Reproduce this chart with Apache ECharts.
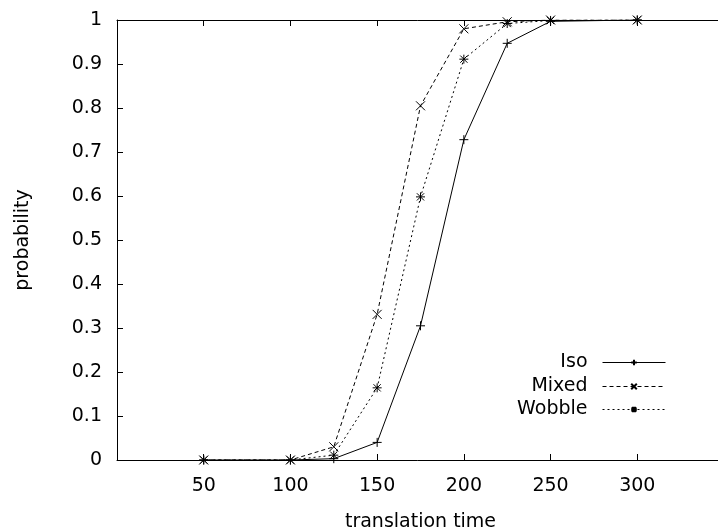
<!DOCTYPE html>
<html>
<head>
<meta charset="UTF-8">
<script src="https://cdn.jsdelivr.net/npm/echarts@6/dist/echarts.min.js"></script>
<style>
  html, body { margin: 0; padding: 0; background: #fff; }
  #chart { width: 718px; height: 529px; }
</style>
</head>
<body>
<div id="chart"></div>
<script>
  // translation time (x) and probability for each model
  const times = [50, 100, 125, 150, 175, 200, 225, 250, 300];
  const iso = [0, 0, 0.003, 0.040, 0.305, 0.728, 0.947, 0.997, 1];
  const mixed = [0, 0, 0.030, 0.331, 0.805, 0.980, 0.996, 1, 1];
  const wobble = [0, 0, 0.011, 0.164, 0.598, 0.911, 0.992, 0.999, 1];

  const font = 'DejaVu Sans, sans-serif';
  const fs = 19;
  const plus = 'path://M0,-5L0,5M-5,0L5,0';
  const cross = 'path://M-4,-4L4,4M-4,4L4,-4';
  const star = 'path://M0,-5L0,5M-5,0L5,0M-4,-4L4,4M-4,4L4,-4';

  function pairs(ys) { return times.map((t, i) => [t, ys[i]]); }

  function line(name, ys, sym, type) {
    return {
      name: name, type: 'line', data: pairs(ys),
      symbol: sym, symbolSize: 9, showSymbol: true,
      lineStyle: { color: '#000', width: 1, type: type },
      itemStyle: { color: '#000', borderColor: '#000', borderWidth: 1 },
      animation: false
    };
  }

  function leg(name, top) {
    return {
      data: [name], right: 52, top: top, align: 'right', padding: 0,
      itemWidth: 63, itemHeight: 7, itemGap: 0,
      lineStyle: { width: 1 },
      textStyle: { fontFamily: font, fontSize: fs, color: '#000', padding: [0, 10, 0, 0] }
    };
  }

  const chart = echarts.init(document.getElementById('chart'));
  chart.setOption({
    animation: false,
    grid: { left: 117, top: 20, width: 607, height: 440, outerBoundsMode: 'none', containLabel: false },
    legend: [leg('Iso', 353), leg('Mixed', 377), leg('Wobble', 400)],
    xAxis: [{
      type: 'value', min: 0, max: 350, interval: 50,
      name: 'translation time', nameLocation: 'middle', nameGap: 53,
      nameTextStyle: { fontFamily: font, fontSize: fs, color: '#000' },
      axisLine: { lineStyle: { color: '#000', width: 1 } },
      axisTick: { inside: true, length: 6, lineStyle: { color: '#000' } },
      axisLabel: { showMinLabel: false, showMaxLabel: false, margin: 17,
        fontFamily: font, fontSize: fs, color: '#000' },
      splitLine: { show: false }
    }, {
      type: 'value', position: 'top', min: 0, max: 350, interval: 50,
      axisLine: { lineStyle: { color: '#000', width: 1 } },
      axisTick: { inside: true, length: 6, lineStyle: { color: '#000' } },
      axisLabel: { show: false }, splitLine: { show: false }
    }],
    yAxis: {
      type: 'value', min: 0, max: 1, interval: 0.1,
      name: 'probability', nameLocation: 'middle', nameGap: 84,
      nameTextStyle: { fontFamily: font, fontSize: fs, color: '#000' },
      axisLine: { show: true, lineStyle: { color: '#000', width: 1 } },
      axisTick: { show: true, inside: true, length: 6, lineStyle: { color: '#000' } },
      axisLabel: { margin: 15, fontFamily: font, fontSize: fs, color: '#000',
        formatter: v => String(+v.toFixed(1)) },
      splitLine: { show: false }
    },
    series: [
      line('Iso', iso, plus, 'solid'),
      line('Mixed', mixed, cross, [4, 3]),
      line('Wobble', wobble, star, [2, 3])
    ]
  });
</script>
</body>
</html>
